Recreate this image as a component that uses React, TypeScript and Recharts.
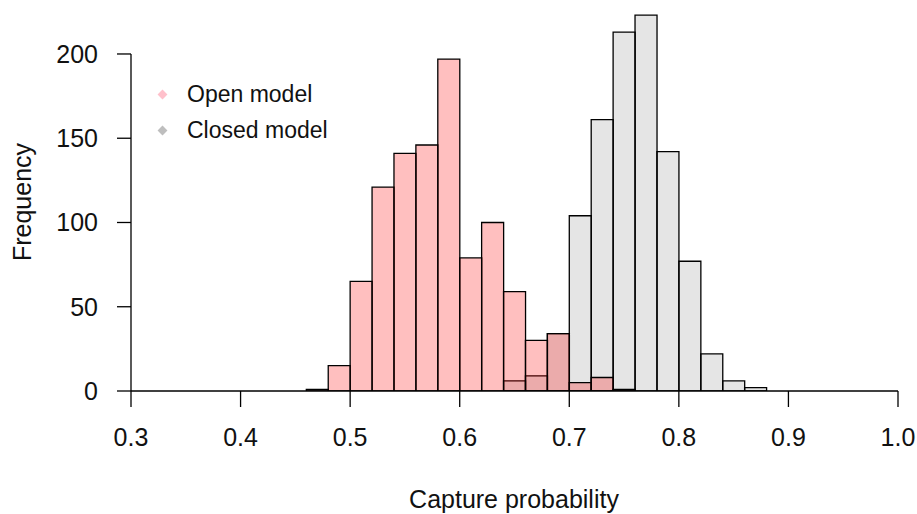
import {
  ComposedChart,
  Bar,
  XAxis,
  YAxis,
  Legend,
  ReferenceLine,
} from "recharts";

// histogram bins of width 0.02, labelled by their left edge
const binStarts = [
  0.3, 0.32, 0.34, 0.36, 0.38, 0.4, 0.42, 0.44, 0.46, 0.48, 0.5, 0.52, 0.54,
  0.56, 0.58, 0.6, 0.62, 0.64, 0.66, 0.68, 0.7, 0.72, 0.74, 0.76, 0.78, 0.8,
  0.82, 0.84, 0.86, 0.88, 0.9, 0.92, 0.94, 0.96, 0.98,
];
const openCounts = [
  0, 0, 0, 0, 0, 0, 0, 0, 1, 15, 65, 121, 141, 146, 197, 79, 100, 59, 30, 34,
  5, 8, 1, 0, 0, 0, 0, 0, 0, 0, 0, 0, 0, 0, 0,
];
const closedCounts = [
  0, 0, 0, 0, 0, 0, 0, 0, 0, 0, 0, 0, 0, 0, 0, 0, 0, 6, 9, 34, 104, 161, 213,
  223, 142, 77, 22, 6, 2, 0, 0, 0, 0, 0, 0,
];
const xTicks = [0.3, 0.4, 0.5, 0.6, 0.7, 0.8, 0.9, 1.0];
const yTicks = [0, 50, 100, 150, 200];
const seriesNames = ["Open model", "Closed model"];
const markerColors = ["#FFC0CB", "#BEBEBE"];

const data = binStarts.map((b, i) => ({
  bin: b.toFixed(2),
  mid: b + 0.01,
  open: openCounts[i],
  closed: closedCounts[i],
}));

const font = "'Liberation Sans', Arial, sans-serif";

function LegendBox() {
  return (
    <div style={{ fontFamily: font, fontSize: 23, color: "#111" }}>
      {seriesNames.map((name, i) => (
        <div
          key={name}
          style={{ display: "flex", alignItems: "center", height: 36 }}
        >
          <span
            style={{
              width: 25,
              display: "flex",
              justifyContent: "center",
            }}
          >
            <span
              style={{
                width: 7,
                height: 7,
                background: markerColors[i],
                transform: "rotate(45deg)",
              }}
            />
          </span>
          <span style={{ marginLeft: 12 }}>{name}</span>
        </div>
      ))}
    </div>
  );
}

export default function App() {
  return (
    <div style={{ position: "absolute", left: 0, top: 0 }}>
      <ComposedChart
        width={917}
        height={514}
        data={data}
        margin={{ top: 10, right: 19, left: 0, bottom: 0 }}
        barCategoryGap={0}
        barGap={0}
      >
        <XAxis
          xAxisId="num"
          type="number"
          dataKey="mid"
          domain={[0.3, 1.0]}
          allowDataOverflow
          ticks={xTicks}
          tickFormatter={(v: number) => v.toFixed(1)}
          height={123}
          tickSize={16}
          tickMargin={21}
          axisLine={{ stroke: "#000", strokeWidth: 1.3 }}
          tickLine={{ stroke: "#000", strokeWidth: 1.3 }}
          tick={{ fill: "#111", fontSize: 25, fontFamily: font }}
          label={{
            content: () => (
              <text
                x={514}
                y={508}
                textAnchor="middle"
                fill="#111"
                fontSize={25}
                fontFamily={font}
              >
                Capture probability
              </text>
            ),
          }}
        />
        <XAxis xAxisId="closed" dataKey="bin" hide height={0} />
        <XAxis xAxisId="open" dataKey="bin" hide height={0} />
        <YAxis
          width={131}
          domain={[0, 226.1]}
          allowDataOverflow
          ticks={yTicks}
          axisLine={false}
          tickSize={14}
          tickMargin={19}
          tickLine={{ stroke: "#000", strokeWidth: 1.3 }}
          tick={{ fill: "#111", fontSize: 25, fontFamily: font }}
          label={{
            content: () => (
              <text
                x={22}
                y={202}
                transform="rotate(-90 22 202)"
                textAnchor="middle"
                dominantBaseline="central"
                fill="#111"
                fontSize={25}
                fontFamily={font}
              >
                Frequency
              </text>
            ),
          }}
        />
        <ReferenceLine
          xAxisId="num"
          segment={[
            { x: 0.3, y: 0 },
            { x: 0.3, y: 200 },
          ]}
          stroke="#000"
          strokeWidth={1.3}
        />
        <Bar
          xAxisId="closed"
          dataKey="closed"
          fill="rgba(0,0,0,0.1)"
          stroke="#000"
          strokeWidth={1.3}
          isAnimationActive={false}
        />
        <Bar
          xAxisId="open"
          dataKey="open"
          fill="rgba(255,0,0,0.25)"
          stroke="#000"
          strokeWidth={1.3}
          isAnimationActive={false}
        />
        <Legend
          layout="horizontal"
          verticalAlign="middle"
          align="center"
          content={() => <LegendBox />}
          wrapperStyle={{ left: 150, top: 76, width: "auto", height: "auto" }}
        />
      </ComposedChart>
    </div>
  );
}
